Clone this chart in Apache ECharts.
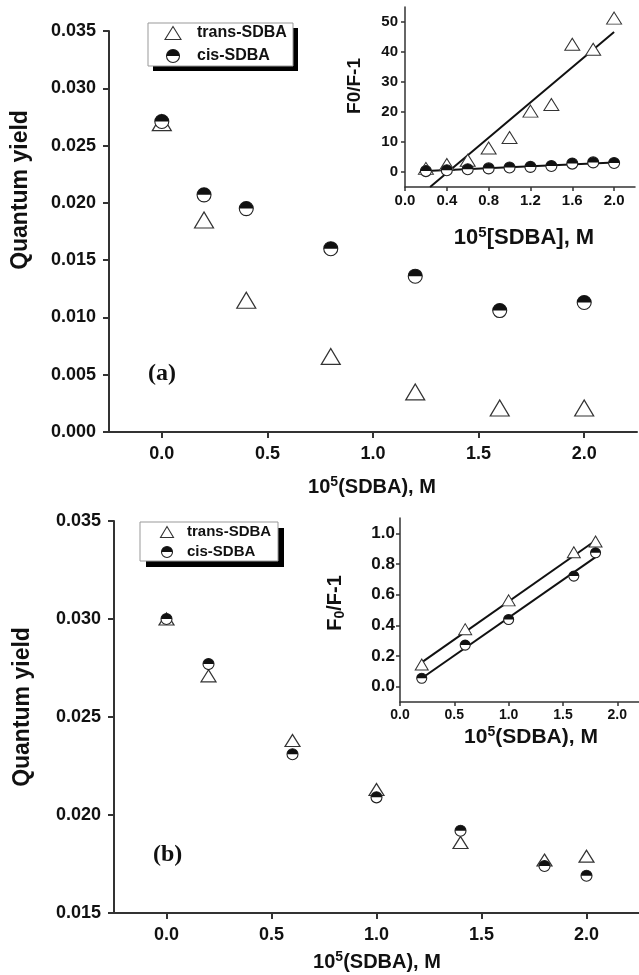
<!DOCTYPE html>
<html><head><meta charset="utf-8">
<script src="https://cdn.jsdelivr.net/npm/echarts@6/dist/echarts.min.js"></script>
<style>html,body{margin:0;padding:0;background:#fff}#c{width:639px;height:975px}</style>
</head><body><div id="c"></div>
<script>
// ---- Panel (a) main ----
const mainXA = [0, 0.2, 0.4, 0.8, 1.2, 1.6, 2.0];
const transA = [0.0270, 0.0185, 0.0115, 0.0066, 0.0035, 0.0021, 0.0021];
const cisA   = [0.0271, 0.0207, 0.0195, 0.0160, 0.0136, 0.0106, 0.0113];
// ---- Panel (a) inset ----
const insetXA = [0.2, 0.4, 0.6, 0.8, 1.0, 1.2, 1.4, 1.6, 1.8, 2.0];
const insetTransA = [1.2, 2.5, 3.9, 8.0, 11.5, 20.3, 22.5, 42.6, 40.9, 51.3];
const insetCisA   = [0.3, 0.6, 0.9, 1.2, 1.5, 1.7, 2.0, 2.8, 3.2, 3.0];
const fitTransA = [[0.24, -5], [2.0, 46.7]];
const fitCisA   = [[0.2, 0.3], [2.0, 3.2]];
// ---- Panel (b) main ----
const mainXB = [0, 0.2, 0.6, 1.0, 1.4, 1.8, 2.0];
const transB = [0.0300, 0.0271, 0.0238, 0.0213, 0.0186, 0.0177, 0.0179];
const cisB   = [0.0300, 0.0277, 0.0231, 0.0209, 0.0192, 0.0174, 0.0169];
// ---- Panel (b) inset ----
const insetXB = [0.2, 0.6, 1.0, 1.6, 1.8];
const insetTransB = [0.145, 0.375, 0.563, 0.877, 0.947];
const insetCisB   = [0.055, 0.271, 0.438, 0.721, 0.873];
const fitTransB = [[0.2, 0.158], [1.8, 0.953]];
const fitCisB   = [[0.2, 0.055], [1.8, 0.845]];
// ---- tick labels ----
const mainXTicks = [0, 0.5, 1.0, 1.5, 2.0];
const mainBYTicks = [0.015, 0.020, 0.025, 0.030, 0.035];
const insetAXTicks = [0, 0.4, 0.8, 1.2, 1.6, 2.0];
const insetAYTicks = [0, 10, 20, 30, 40, 50];
const insetBXTicks = [0, 0.5, 1.0, 1.5, 2.0];
const insetBYTicks = [0, 0.2, 0.4, 0.6, 0.8, 1.0];

const FONT = '"Liberation Sans", Arial, sans-serif';
const AX = '#333';
const chart = echarts.init(document.getElementById('c'), null, {renderer: 'canvas'});

function pairs(xs, ys) { return xs.map((x, i) => [x, ys[i]]); }
function halfCircle(r) {
  return function (params, api) {
    const p = api.coord([api.value(0), api.value(1)]);
    return {type: 'group', children: [
      {type: 'circle', shape: {cx: p[0], cy: p[1], r: r}, style: {fill: '#fff', stroke: '#222', lineWidth: 1.1}},
      {type: 'sector', shape: {cx: p[0], cy: p[1], r0: 0, r: r, startAngle: Math.PI, endAngle: 2 * Math.PI}, style: {fill: '#111'}}
    ]};
  };
}
function axis(gi, o) {
  const a = {
    gridIndex: gi, type: 'value', min: o.min, max: o.max,
    axisLine: {show: true, onZero: false, lineStyle: {color: AX, width: o.lw || 2}},
    axisTick: {show: true, inside: false, length: o.tl || 6, lineStyle: {color: AX, width: o.lw || 2}},
    axisLabel: {show: true, margin: o.margin, color: '#111', fontFamily: FONT, fontWeight: 'bold', fontSize: o.fs,
      formatter: v => v.toFixed(o.dec)},
    splitLine: {show: false}
  };
  if (o.ticks) {
    a.axisTick.customValues = o.ticks;
    a.axisLabel.customValues = o.ticks;
  } else {
    a.interval = o.interval;
  }
  return a;
}
function triSeries(xi, yi, data, size, bw) {
  return {type: 'scatter', xAxisIndex: xi, yAxisIndex: yi, data: data, symbol: 'triangle', symbolSize: size,
    itemStyle: {color: '#fff', borderColor: '#333', borderWidth: bw || 1.2, opacity: 1}, z: 3, silent: true};
}
function cisSeries(xi, yi, data, r) {
  return {type: 'custom', xAxisIndex: xi, yAxisIndex: yi, data: data, renderItem: halfCircle(r), z: 4, silent: true};
}
function fitSeries(xi, yi, data) {
  return {type: 'line', xAxisIndex: xi, yAxisIndex: yi, data: data, symbol: 'none', lineStyle: {color: '#111', width: 2}, z: 2, silent: true};
}
function supText(x, y, pre, sup, post, fs, sfs, rise) {
  return {type: 'text', x: x, y: y, style: {
    text: '{a|' + pre + '}{s|' + sup + '}{a|' + post + '}', align: 'center', verticalAlign: 'middle',
    rich: {a: {fontFamily: FONT, fontWeight: 'bold', fontSize: fs, fill: '#111'},
           s: {fontFamily: FONT, fontWeight: 'bold', fontSize: sfs, fill: '#111', padding: [0, 0, rise, 0]}}}};
}
function legend(x, y, w, h, sh, triW, triH, r, fs, icx, tx, y1, y2) {
  return [
    {type: 'rect', shape: {x: x + sh, y: y + sh, width: w, height: h}, style: {fill: '#000'}},
    {type: 'rect', shape: {x: x, y: y, width: w, height: h}, style: {fill: '#fff', stroke: '#999', lineWidth: 1}},
    {type: 'polygon', shape: {points: [[icx - triW / 2, y1 + triH / 2], [icx + triW / 2, y1 + triH / 2], [icx, y1 - triH / 2]]},
      style: {fill: '#fff', stroke: '#333', lineWidth: 1.1}},
    {type: 'circle', shape: {cx: icx, cy: y2, r: r}, style: {fill: '#fff', stroke: '#222', lineWidth: 1.1}},
    {type: 'sector', shape: {cx: icx, cy: y2, r0: 0, r: r, startAngle: Math.PI, endAngle: 2 * Math.PI}, style: {fill: '#111'}},
    {type: 'text', x: tx, y: y1, style: {text: 'trans-SDBA', fill: '#111', font: 'bold ' + fs + 'px ' + FONT, align: 'left', verticalAlign: 'middle'}},
    {type: 'text', x: tx, y: y2, style: {text: 'cis-SDBA', fill: '#111', font: 'bold ' + fs + 'px ' + FONT, align: 'left', verticalAlign: 'middle'}}
  ];
}

const option = {
  animation: false,
  backgroundColor: '#fff',
  grid: [
    {left: 109, top: 31, width: 528, height: 401, outerBoundsMode: 'none', containLabel: false},
    {left: 405, top: 7, width: 230, height: 180, outerBoundsMode: 'none', containLabel: false},
    {left: 114, top: 521, width: 525, height: 392, outerBoundsMode: 'none', containLabel: false},
    {left: 400, top: 518, width: 239, height: 184, outerBoundsMode: 'none', containLabel: false}
  ],
  xAxis: [
    axis(0, {min: -0.25, max: 2.25, ticks: mainXTicks, dec: 1, fs: 18, margin: 13}),
    axis(1, {min: 0, max: 2.2, ticks: insetAXTicks, dec: 1, fs: 15, margin: 6, lw: 1.5, tl: 4}),
    axis(2, {min: -0.25, max: 2.25, ticks: mainXTicks, dec: 1, fs: 18, margin: 13}),
    axis(3, {min: 0, max: 2.2, ticks: insetBXTicks, dec: 1, fs: 14, margin: 6, lw: 1.5, tl: 4})
  ],
  yAxis: [
    axis(0, {min: 0, max: 0.035, interval: 0.005, dec: 3, fs: 18, margin: 13}),
    axis(1, {min: -5, max: 55, ticks: insetAYTicks, dec: 0, fs: 15, margin: 7, lw: 1.5, tl: 4}),
    axis(2, {min: 0.015, max: 0.035, ticks: mainBYTicks, dec: 3, fs: 18, margin: 13}),
    axis(3, {min: -0.1, max: 1.1, ticks: insetBYTicks, dec: 1, fs: 17, margin: 5, lw: 1.5, tl: 4})
  ],
  series: [
    triSeries(0, 0, pairs(mainXA, transA), [19, 16]),
    cisSeries(0, 0, pairs(mainXA, cisA), 7),
    fitSeries(1, 1, fitTransA),
    fitSeries(1, 1, fitCisA),
    triSeries(1, 1, pairs(insetXA, insetTransA), [15, 12], 1),
    cisSeries(1, 1, pairs(insetXA, insetCisA), 5.5),
    triSeries(2, 2, pairs(mainXB, transB), [15, 12]),
    cisSeries(2, 2, pairs(mainXB, cisB), 5.5),
    fitSeries(3, 3, fitTransB),
    fitSeries(3, 3, fitCisB),
    triSeries(3, 3, pairs(insetXB, insetTransB), [13, 11], 1),
    cisSeries(3, 3, pairs(insetXB, insetCisB), 5)
  ],
  graphic: [].concat(
    legend(148, 23, 145, 43, 5, 16, 13, 6.5, 16, 173, 197, 33, 56),
    legend(140, 522, 138, 39, 6, 13, 11, 5.5, 15, 167, 187, 532, 552),
    [
      {type: 'text', x: 21, y: 190, rotation: Math.PI / 2, style: {text: 'Quantum yield', fill: '#111', font: 'bold 23px ' + FONT, align: 'center', verticalAlign: 'middle'}},
      {type: 'text', x: 23, y: 707, rotation: Math.PI / 2, style: {text: 'Quantum yield', fill: '#111', font: 'bold 23px ' + FONT, align: 'center', verticalAlign: 'middle'}},
      {type: 'text', x: 355, y: 86, rotation: Math.PI / 2, style: {text: 'F0/F-1', fill: '#111', font: 'bold 19px ' + FONT, align: 'center', verticalAlign: 'middle'}},
      {type: 'text', x: 335, y: 603, rotation: Math.PI / 2, style: {
        text: '{a|F}{s|0}{a|/F-1}', align: 'center', verticalAlign: 'middle',
        rich: {a: {fontFamily: FONT, fontWeight: 'bold', fontSize: 20, fill: '#111'},
               s: {fontFamily: FONT, fontWeight: 'bold', fontSize: 14, fill: '#111', padding: [10, 0, 0, 0]}}}},
      supText(372, 487, '10', '5', '(SDBA), M', 20, 14, 10),
      supText(377, 962, '10', '5', '(SDBA), M', 20, 14, 10),
      supText(524, 238, '10', '5', '[SDBA], M', 22, 15, 11),
      supText(531, 737, '10', '5', '(SDBA), M', 21, 14, 10),
      {type: 'text', x: 148, y: 374, style: {text: '(a)', fill: '#111', font: 'bold 24px "Liberation Serif", "Times New Roman", serif', align: 'left', verticalAlign: 'middle'}},
      {type: 'text', x: 153, y: 855, style: {text: '(b)', fill: '#111', font: 'bold 24px "Liberation Serif", "Times New Roman", serif', align: 'left', verticalAlign: 'middle'}}
    ]
  )
};
chart.setOption(option);
</script>
</body></html>
